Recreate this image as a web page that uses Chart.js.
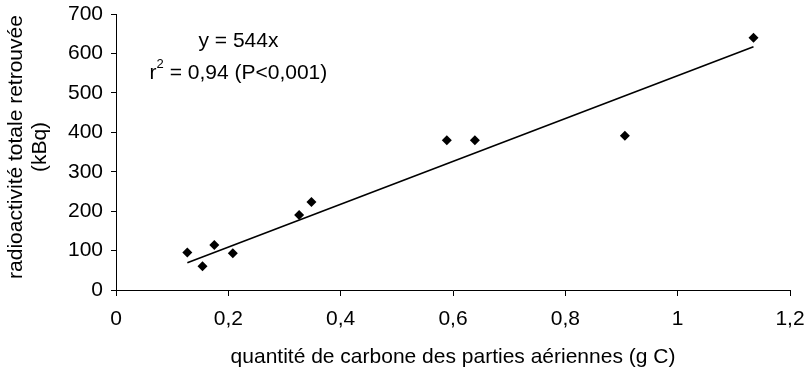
<!DOCTYPE html>
<html>
<head>
<meta charset="utf-8">
<script src="https://cdn.jsdelivr.net/npm/chart.js@4"></script>
<style>
  html, body { margin: 0; padding: 0; background: #fff; }
  #wrap { width: 808px; height: 375px; }
</style>
</head>
<body>
<div id="wrap"><canvas id="chart" width="808" height="375"></canvas></div>
<script>
// carbon in aerial parts (g C) vs total radioactivity recovered (kBq)
const carbonX = [0.127, 0.154, 0.175, 0.208, 0.326, 0.348, 0.589, 0.639, 0.906, 1.135];
const activityY = [95, 60, 114, 93, 190, 223, 380, 380, 391, 640];

// regression line y = 544x, end points
const fitX = [0.127, 1.135];
const fitY = [69, 617];

const xTicks = [0, 0.2, 0.4, 0.6, 0.8, 1, 1.2];
const yTicks = [0, 100, 200, 300, 400, 500, 600, 700];

const yTitle = ["radioactivité totale retrouvée", "(kBq)"];

const FONT = "'Liberation Sans', Arial, sans-serif";
Chart.defaults.font.family = FONT;
Chart.defaults.color = "#000";

const points = carbonX.map((x, i) => ({ x: x, y: activityY[i] }));
const fitLine = fitX.map((x, i) => ({ x: x, y: fitY[i] }));

// equation text in data space + rotated y title
const extraText = {
  id: "extraText",
  afterDatasetsDraw(chart) {
    const ctx = chart.ctx;
    const xs = chart.scales.x, ys = chart.scales.y;
    const cx = xs.getPixelForValue(0.218);
    const big = "21px " + FONT, small = "13px " + FONT;
    ctx.save();
    ctx.fillStyle = "#000";
    ctx.font = big;
    ctx.textAlign = "center";
    ctx.textBaseline = "middle";
    ctx.fillText("y = 544x", cx, ys.getPixelForValue(630));

    // second line with superscript
    const y2 = ys.getPixelForValue(551);
    const a = "r", b = " = 0,94 (P<0,001)";
    const wa = ctx.measureText(a).width;
    const wb = ctx.measureText(b).width;
    ctx.font = small;
    const ws = ctx.measureText("2").width;
    let left = cx - (wa + ws + wb) / 2;
    ctx.textAlign = "left";
    ctx.font = big;
    ctx.fillText(a, left, y2);
    ctx.font = small;
    ctx.fillText("2", left + wa, y2 - 8);
    ctx.font = big;
    ctx.fillText(b, left + wa + ws, y2);

    // y axis title, two lines
    ctx.font = big;
    ctx.textAlign = "center";
    ctx.translate(16, 147);
    ctx.rotate(-Math.PI / 2);
    ctx.fillText(yTitle[0], 0, 0);
    ctx.fillText(yTitle[1], 0, 24.5);
    ctx.restore();
  }
};

new Chart("chart", {
  type: "scatter",
  data: {
    datasets: [
      {
        label: "fit",
        type: "line",
        data: fitLine,
        borderColor: "#000",
        borderWidth: 1.6,
        pointRadius: 0,
        fill: false,
      },
      {
        label: "mesures",
        data: points,
        pointStyle: "rectRot",
        pointRadius: 5,
        backgroundColor: "#000",
        borderColor: "#000",
        borderWidth: 0,
      },
    ],
  },
  options: {
    responsive: false,
    animation: false,
    layout: { padding: { top: 14, right: 18, left: 0, bottom: 0 } },
    plugins: {
      legend: { display: false },
      tooltip: { enabled: false },
    },
    scales: {
      x: {
        type: "linear",
        min: 0,
        max: 1.2,
        afterBuildTicks: (s) => { s.ticks = xTicks.map((v) => ({ value: v })); },
        afterFit: (s) => { s.height = 85; s.paddingLeft = 0; s.paddingRight = 0; },
        border: { color: "#000", width: 1 },
        grid: { drawOnChartArea: false, drawTicks: true, tickLength: 6, color: "#000" },
        ticks: {
          padding: 11,
          font: { size: 21 },
          callback: (v) => String(v).replace(".", ","),
        },
        title: {
          display: true,
          text: "quantité de carbone des parties aériennes (g C)",
          font: { size: 21 },
          padding: { top: 0, bottom: 5 },
        },
      },
      y: {
        type: "linear",
        min: 0,
        max: 700,
        afterBuildTicks: (s) => { s.ticks = yTicks.map((v) => ({ value: v })); },
        afterFit: (s) => { s.width = 116; s.paddingTop = 0; s.paddingBottom = 0; },
        border: { color: "#000", width: 1 },
        grid: { drawOnChartArea: false, drawTicks: true, tickLength: 5, color: "#000" },
        ticks: {
          padding: 8,
          font: { size: 21 },
        },
        title: { display: false },
      },
    },
  },
  plugins: [extraText],
});
</script>
</body>
</html>
